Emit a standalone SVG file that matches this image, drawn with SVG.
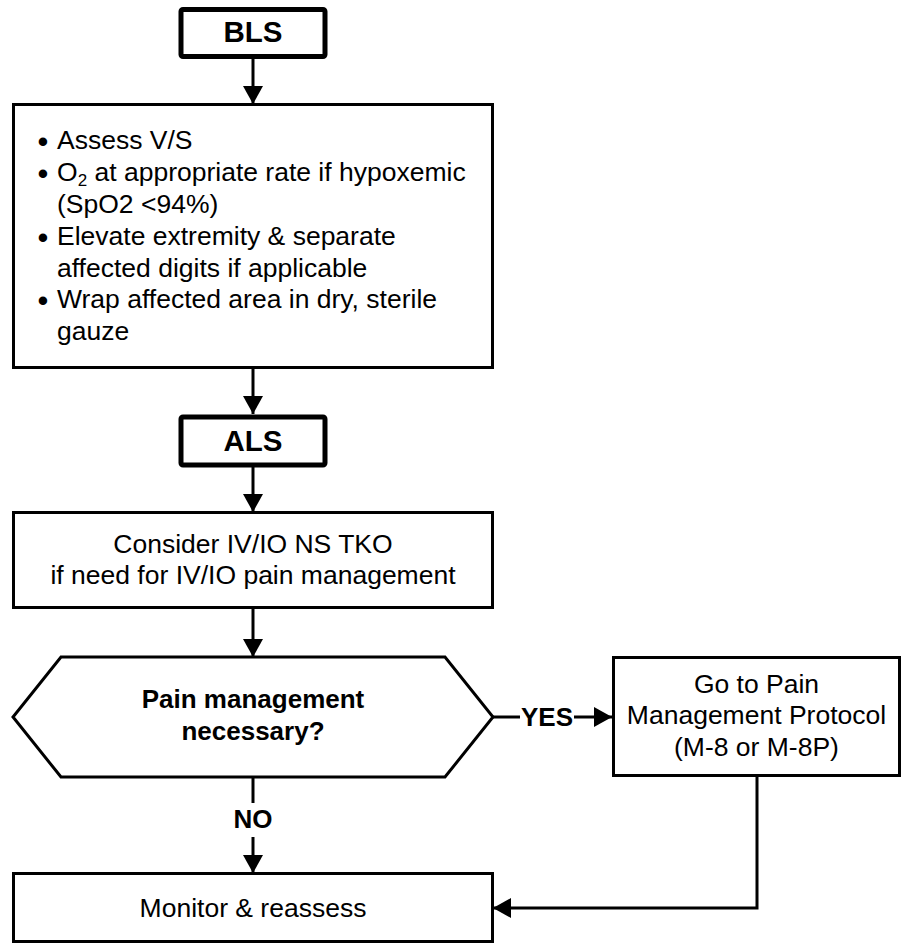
<svg xmlns="http://www.w3.org/2000/svg" width="903" height="945" viewBox="0 0 903 945">
<style>
  .box { fill: #fff; stroke: #000; stroke-width: 3; }
  .hdr { fill: #fff; stroke: #000; stroke-width: 5; }
  .t { font-family: "Liberation Sans", Arial, sans-serif; font-size: 26.5px; fill: #000; }
  .c { text-anchor: middle; }
  .b { font-weight: bold; font-size: 26px; }
  .h { font-family: "Liberation Sans", Arial, sans-serif; font-weight: bold; font-size: 29.5px; text-anchor: middle; fill: #000; }
  .ln { fill: none; stroke: #000; stroke-width: 3; }
  .bul { font-size: 31px; text-anchor: middle; }
  .tx { text-anchor: start; }
</style>
<defs>
  <marker id="arr" markerUnits="userSpaceOnUse" markerWidth="20" markerHeight="20" viewBox="0 0 18 20" refX="18" refY="10" orient="auto">
    <path d="M0,0 L18,10 L0,20 Z" fill="#000"/>
  </marker>
</defs>
<rect width="903" height="945" fill="#fff"/>

<g id="connectors">
  <line class="ln" x1="253" y1="59" x2="253" y2="104" marker-end="url(#arr)"/>
  <line class="ln" x1="253" y1="368" x2="253" y2="414" marker-end="url(#arr)"/>
  <line class="ln" x1="253" y1="467" x2="253" y2="512" marker-end="url(#arr)"/>
  <line class="ln" x1="253" y1="608" x2="253" y2="657" marker-end="url(#arr)"/>
  <line class="ln" x1="493" y1="717" x2="520" y2="717"/>
  <line class="ln" x1="574" y1="717" x2="612" y2="717" marker-end="url(#arr)"/>
  <text class="t c b" x="547" y="726">YES</text>
  <line class="ln" x1="253" y1="777" x2="253" y2="803"/>
  <line class="ln" x1="253" y1="837" x2="253" y2="873" marker-end="url(#arr)"/>
  <text class="t c b" x="253" y="828">NO</text>
  <path class="ln" d="M757,776 V908 H493" marker-end="url(#arr)"/>
</g>

<g id="bls">
  <rect class="hdr" x="181" y="9.5" width="144" height="47" rx="2"/>
  <text class="h" x="253" y="42">BLS</text>
</g>

<g id="bls-actions">
  <rect class="box" x="13.5" y="104.5" width="479" height="263"/>
  <text class="t" y="149"><tspan class="bul" x="43" dy="3">•</tspan><tspan class="tx" x="57" dy="-3">Assess V/S</tspan></text>
  <text class="t" y="181"><tspan class="bul" x="43" dy="3">•</tspan><tspan class="tx" x="57" dy="-3">O</tspan><tspan font-size="17" dy="5">2</tspan><tspan dy="-5"> at appropriate rate if hypoxemic</tspan></text>
  <text class="t" x="57" y="212.5">(SpO2 &lt;94%)</text>
  <text class="t" y="244.5"><tspan class="bul" x="43" dy="3">•</tspan><tspan class="tx" x="57" dy="-3">Elevate extremity &amp; separate</tspan></text>
  <text class="t" x="57" y="276.5">affected digits if applicable</text>
  <text class="t" y="308"><tspan class="bul" x="43" dy="3">•</tspan><tspan class="tx" x="57" dy="-3">Wrap affected area in dry, sterile</tspan></text>
  <text class="t" x="57" y="340">gauze</text>
</g>

<g id="als">
  <rect class="hdr" x="181" y="417" width="144" height="48" rx="2"/>
  <text class="h" x="253" y="451">ALS</text>
</g>

<g id="consider-iv">
  <rect class="box" x="13.5" y="512.5" width="479" height="95"/>
  <text class="t c" x="253" y="553">Consider IV/IO NS TKO</text>
  <text class="t c" x="253" y="583.5">if need for IV/IO pain management</text>
</g>

<g id="decision">
  <polygon class="box" points="61,657 445,657 493,717 445,777 61,777 13,717"/>
  <text class="t c b" x="253" y="708">Pain management</text>
  <text class="t c b" x="253" y="740">necessary?</text>
</g>

<g id="pain-protocol">
  <rect class="box" x="613.5" y="657.5" width="286" height="118"/>
  <text class="t c" x="756.5" y="693">Go to Pain</text>
  <text class="t c" x="756.5" y="724">Management Protocol</text>
  <text class="t c" x="756.5" y="755.5">(M-8 or M-8P)</text>
</g>

<g id="monitor">
  <rect class="box" x="13.5" y="873.5" width="479" height="68"/>
  <text class="t c" x="253" y="917">Monitor &amp; reassess</text>
</g>
</svg>
